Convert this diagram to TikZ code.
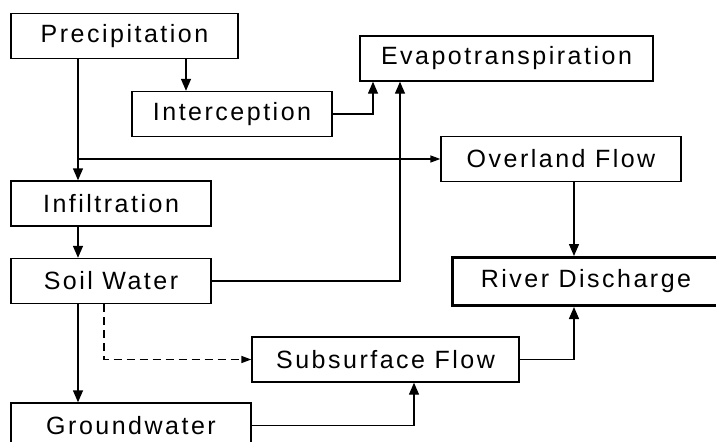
\documentclass[tikz,border=0pt]{standalone}
\usepackage{fontspec}
\newfontfamily\boxfont{Liberation Sans}[LetterSpace=10]
\usetikzlibrary{arrows.meta}

\begin{document}
\begin{tikzpicture}[
  x=1pt,y=-1pt,
  font=\boxfont\fontsize{25}{30}\selectfont,
  >={Triangle[length=12pt,width=10pt]},
  box/.style={draw,line width=1.4pt,minimum height=45pt,inner sep=0pt,align=center},
  main/.style={box,line width=3pt},
  flow/.style={->,line width=1.4pt},
  flowh/.style={flow,>={Triangle[length=10pt,width=7pt]}},
  dflow/.style={flowh,dash pattern=on 8pt off 5pt},
]
\useasboundingbox (0,0) rectangle (716,442);
\clip (0,0) rectangle (716,442);

% --- boxes ---
\node[box,minimum width=227pt] (prec)   at (124.5,36)  {Precipitation};
\node[box,minimum width=200pt] (inter)  at (232,114)   {Interception};
\node[box,minimum width=293pt] (evap)   at (506.5,58.5){Evapotranspiration};
\node[box,minimum width=240pt] (over)   at (561,159)   {Overland Flow};
\node[box,minimum width=200pt] (infil)  at (111,203.5) {Infiltration};
\node[box,minimum width=200pt] (soil)   at (111,281)   {Soil Water};
\node[box,minimum width=267pt] (subs)   at (385.5,359.5){Subsurface Flow};
\node[main,minimum width=268pt,minimum height=48pt] (river) at (586,281.5) {River Discharge};
\node[box,minimum width=240pt] (ground) at (131,425.5) {Groundwater};

% --- connector columns ---
\coordinate (trunk) at (78,0);
\coordinate (intx)  at (186,0);
\coordinate (evx)   at (373,0);
\coordinate (soilx) at (400,0);
\coordinate (dashx) at (104,0);
\coordinate (rivx)  at (574,0);
\coordinate (gwx)   at (414,0);

% --- arrows ---
\draw[flow] (prec.south -| trunk) -- (infil.north -| trunk);
\draw[flow] (prec.south -| intx) -- (inter.north -| intx);
\draw[flowh] (over.west -| trunk) -- (over.west);
\draw[flow] (inter.east) -| (evap.south -| evx);
\draw[flow] (soil.east) -| (evap.south -| soilx);
\draw[flow] (infil.south -| trunk) -- (soil.north -| trunk);
\draw[flow] (over.south -| rivx) -- (river.north -| rivx);
\draw[flow] (soil.south -| trunk) -- (ground.north -| trunk);
\draw[dflow] (soil.south -| dashx) |- (subs.west);
\draw[flow] (subs.east) -| (river.south -| rivx);
\draw[flow] (ground.east) -| (subs.south -| gwx);

\end{tikzpicture}
\end{document}
